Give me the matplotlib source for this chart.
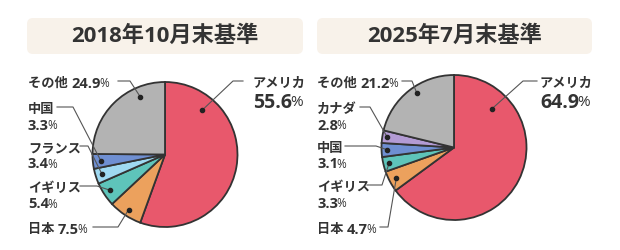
import numpy as np
import matplotlib
matplotlib.use("Agg")
import matplotlib.pyplot as plt
from matplotlib.patches import FancyBboxPatch

plt.rcParams['font.family'] = ['Open Sans', 'Noto Sans CJK JP', 'DejaVu Sans']

# data
left_title = "2018年10月末基準"
left_labels = ["アメリカ", "日本", "イギリス", "フランス", "中国", "その他"]
left_values = [55.6, 7.5, 5.4, 3.4, 3.3, 24.9]

right_title = "2025年7月末基準"
right_labels = ["アメリカ", "日本", "イギリス", "中国", "カナダ", "その他"]
right_values = [64.9, 4.7, 3.3, 3.1, 2.8, 21.2]

colors = {
    "アメリカ": "#e8586c",
    "日本": "#eca15d",
    "イギリス": "#5ec4ba",
    "フランス": "#9fd9f1",
    "中国": "#6f8fd2",
    "カナダ": "#b39bd4",
    "その他": "#b3b3b3",
}

W, H = 620, 250
TXT = "#333333"
LINE = "#555555"
R = 72.5

# label layout in pixel coords (y down): text x, text y, line start x, elbow x, elbow y,
# dot position as fraction of the wedge sweep and of the radius
left_layout = {
    "アメリカ": dict(tx=253, ty=81, lx=243, ex=233, ey=81, f=0.20, r=0.80, big=True),
    "日本": dict(tx=28, ty=227, lx=93, ex=118, ey=227, f=0.5, r=0.91, one=True),
    "イギリス": dict(tx=28, ty=186, lx=80, ex=97, ey=186, f=0.5, r=0.90),
    "フランス": dict(tx=28, ty=146, lx=80, ex=88, ey=146, f=0.5, r=0.91),
    "中国": dict(tx=28, ty=107, lx=57, ex=73, ey=107, f=0.5, r=0.89),
    "その他": dict(tx=28, ty=81, lx=118, ex=130, ey=81, f=0.74, r=0.87, one=True),
}
right_layout = {
    "アメリカ": dict(tx=540, ty=81, lx=537, ex=523, ey=81, f=0.19, r=0.74, big=True),
    "日本": dict(tx=317, ty=227, lx=380, ex=388, ey=227, f=0.5, r=0.90, one=True),
    "イギリス": dict(tx=317, ty=185, lx=367, ex=382, ey=185, f=0.5, r=0.92),
    "中国": dict(tx=317, ty=146, lx=345, ex=376, ey=146, f=0.5, r=0.92),
    "カナダ": dict(tx=317, ty=107, lx=360, ex=370, ey=107, f=0.5, r=0.93),
    "その他": dict(tx=317, ty=81, lx=402, ex=412, ey=81, f=0.55, r=0.91, one=True),
}

fig = plt.figure(figsize=(6.2, 2.5), dpi=100)
ax = fig.add_axes([0, 0, 1, 1])
renderer = fig.canvas.get_renderer()


def Y(y):
    return H - y


def put_parts(x, y, parts):
    # draw consecutive text pieces one after another
    cur = x
    for s, size, weight in parts:
        if s == "%":
            cur -= 1.5
        t = ax.text(cur, Y(y), s, fontsize=size, fontweight=weight, color=TXT,
                    ha="left", va="center_baseline")
        bb = t.get_window_extent(renderer=renderer)
        inv = ax.transData.inverted()
        x0 = inv.transform((bb.x0, bb.y0))[0]
        x1 = inv.transform((bb.x1, bb.y0))[0]
        cur += (x1 - x0)


def panel(labels, values, title, cx, cy, box_x0, box_x1, layout):
    box = FancyBboxPatch((box_x0, Y(54)), box_x1 - box_x0, 36,
                         boxstyle="round,pad=0,rounding_size=6",
                         fc="#f8f2ea", ec="none")
    ax.add_patch(box)
    ax.text((box_x0 + box_x1) / 2, Y(36), title, fontsize=16, fontweight="bold",
            color=TXT, ha="center", va="center")

    wedges, _ = ax.pie(values, colors=[colors[l] for l in labels], startangle=90,
                       counterclock=False, center=(cx, Y(cy)), radius=R, frame=True,
                       wedgeprops=dict(edgecolor="#333333", linewidth=1.3))

    for w, lab, val in zip(wedges, labels, values):
        lay = layout[lab]
        ang = np.deg2rad(w.theta2 - lay["f"] * (w.theta2 - w.theta1))
        dx = cx + lay["r"] * R * np.cos(ang)
        dy = Y(cy) + lay["r"] * R * np.sin(ang)
        ax.plot([lay["lx"], lay["ex"], dx], [Y(lay["ey"]), Y(lay["ey"]), dy],
                color=LINE, lw=0.8, zorder=5)
        ax.plot(dx, dy, "o", ms=3.0, color="#222222", zorder=6)

        num = f"{val:.1f}"
        if lay.get("big"):
            put_parts(lay["tx"], lay["ty"] + 1, [(lab, 9.5, "bold")])
            put_parts(lay["tx"], lay["ty"] + 20, [(num, 14, "bold"), ("%", 11, "normal")])
        elif lay.get("one"):
            put_parts(lay["tx"], lay["ty"] + 1, [(lab + " ", 9.5, "bold"), (num, 10.5, "bold"),
                                                  ("%", 8.5, "normal")])
        else:
            put_parts(lay["tx"], lay["ty"] + 1, [(lab, 9.5, "bold")])
            put_parts(lay["tx"], lay["ty"] + 17, [(num, 10.5, "bold"), ("%", 8.5, "normal")])


ax.set_xlim(0, W)
ax.set_ylim(0, H)
panel(left_labels, left_values, left_title, 165, 154.5, 27, 303, left_layout)
panel(right_labels, right_values, right_title, 454, 147.5, 317, 592, right_layout)
ax.set_xlim(0, W)
ax.set_ylim(0, H)
ax.set_aspect("equal")
ax.axis("off")

fig.savefig("out.png", dpi=100, facecolor="white")
